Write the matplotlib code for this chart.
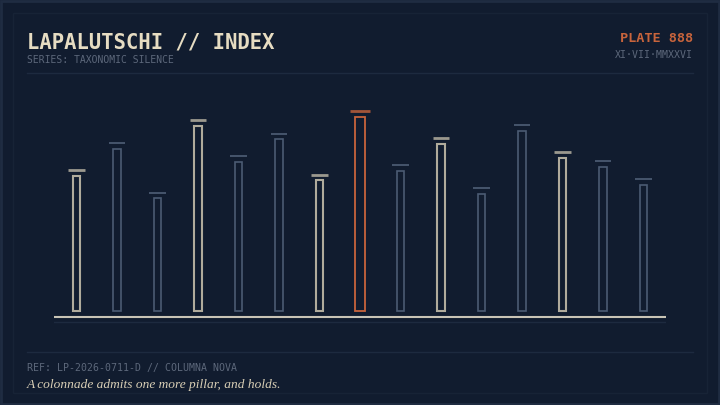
import matplotlib
matplotlib.use("Agg")
import matplotlib.pyplot as plt
from matplotlib.patches import Rectangle

# ---- data ----
categories = [f"C{i+1:02d}" for i in range(15)]
values = [67.5, 81.0, 56.4, 92.4, 74.4, 85.7, 65.2, 96.9, 69.9, 83.4, 58.5, 90.0, 76.5, 72.0, 63.0]
kinds = ["cream", "slate", "slate", "cream", "slate", "slate", "cream", "accent",
         "slate", "cream", "slate", "slate", "cream", "slate", "slate"]

title = "LAPALUTSCHI // INDEX"
subtitle = "SERIES: TAXONOMIC SILENCE"
plate = "PLATE 888"
date_txt = "XI·VII·MMXXVI"
ref_txt = "REF: LP-2026-0711-D // COLUMNA NOVA"
caption = "A colonnade admits one more pillar, and holds."

# ---- style ----
BG = "#111c2f"
CREAM = "#e6dcc2"
SLATE = "#4b5b73"
ACCENT = "#c8643c"
MUTED = "#5d687b"
RULE = "#1d2a3f"

W, H = 720, 405
fig = plt.figure(figsize=(7.2, 4.05), dpi=100, facecolor=BG)

def fx(px):
    return px / W

def fy(py):
    return 1 - py / H

# outer border and inner frame
fig.patches.append(Rectangle((0.001, 0.002), 0.998, 0.996, transform=fig.transFigure,
                             fill=False, edgecolor="#1f2c42", linewidth=2.0))
fig.patches.append(Rectangle((fx(12.5), fy(392.5)), fx(707) - fx(12.5), fy(12.5) - fy(392.5),
                             transform=fig.transFigure, fill=False, edgecolor="#172336",
                             linewidth=1.0))

# rules
fig.add_artist(plt.Line2D([fx(27), fx(693)], [fy(72.5), fy(72.5)], transform=fig.transFigure,
                          color=RULE, linewidth=1.0))
fig.add_artist(plt.Line2D([fx(27), fx(693)], [fy(351.5), fy(351.5)], transform=fig.transFigure,
                          color=RULE, linewidth=1.0))

mono = ["DejaVu Sans Mono"]
fig.text(fx(27), fy(48), title, family=mono, weight="bold", fontsize=14.8, color=CREAM,
         va="baseline", ha="left")
fig.text(fx(27), fy(63), subtitle, family=mono, fontsize=7.0, color=MUTED,
         va="baseline", ha="left")
fig.text(fx(693), fy(42.3), plate, family=mono, weight="bold", fontsize=9.7, color=ACCENT,
         va="baseline", ha="right")
fig.text(fx(693), fy(58), date_txt, family=mono, fontsize=7.1, color=MUTED,
         va="baseline", ha="right")
fig.text(fx(27), fy(370.7), ref_txt, family=mono, fontsize=7.1, color=MUTED,
         va="baseline", ha="left")
fig.text(fx(27), fy(388), caption, family=["Liberation Serif", "DejaVu Serif"], style="italic",
         fontsize=9.6, color="#d9cfb6", va="baseline", ha="left")

# ---- axes ----
ax = fig.add_axes([fx(54), fy(330), fx(666) - fx(54), fy(100) - fy(330)])
ax.set_facecolor("none")
ax.set_xlim(-0.556, 14.556)
ax.set_ylim(-9.65, 105.35)
ax.axis("off")

style = {
    "cream": dict(w=0.18, color=CREAM, lw=1.5, alpha=0.75, capw=0.40, caplw=2.0, capalpha=0.65),
    "slate": dict(w=0.175, color=SLATE, lw=1.2, alpha=1.0, capw=0.40, caplw=1.4, capalpha=0.9),
    "accent": dict(w=0.26, color=ACCENT, lw=1.3, alpha=1.0, capw=0.48, caplw=2.0, capalpha=0.8),
}

for i, (v, k) in enumerate(zip(values, kinds)):
    s = style[k]
    ax.add_patch(Rectangle((i - s["w"] / 2, 0), s["w"], v, fill=False, edgecolor=s["color"],
                           linewidth=s["lw"], alpha=s["alpha"]))
    ax.plot([i - s["capw"] / 2, i + s["capw"] / 2], [v + 2.7, v + 2.7], color=s["color"],
            linewidth=s["caplw"], alpha=s["capalpha"], solid_capstyle="butt")

ax.axhline(-3.15, color="#c9c4b6", linewidth=1.5)
ax.axhline(-5.8, color=RULE, linewidth=1.0)

fig.savefig("out.png", dpi=100, facecolor=BG)
